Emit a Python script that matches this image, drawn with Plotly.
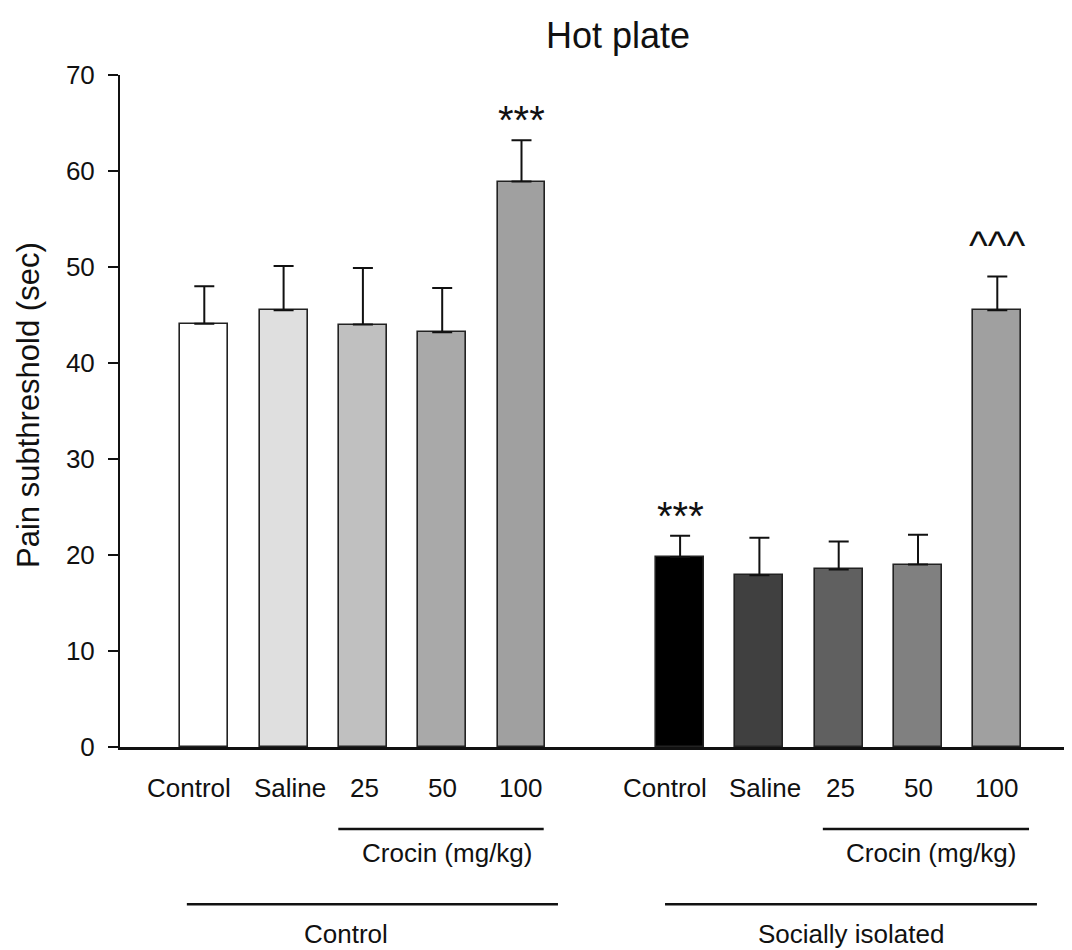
import plotly.graph_objects as go

# ---- data ----
categories = ["Control", "Saline", "25", "50", "100",
              "Control", "Saline", "25", "50", "100"]
positions = [0, 1, 2, 3, 4, 6, 7, 8, 9, 10]
means = [44.1, 45.5, 44.0, 43.2, 58.9,
         19.8, 17.9, 18.5, 19.0, 45.5]
sems = [3.9, 4.6, 5.9, 4.6, 4.3,
        2.2, 3.9, 2.9, 3.1, 3.5]
colors = ["#ffffff", "#dfdfdf", "#c0c0c0", "#a9a9a9", "#a0a0a0",
          "#000000", "#404040", "#606060", "#808080", "#a0a0a0"]
sig_marks = ["", "", "", "", "***", "***", "", "", "", "^^^"]
groups = ["Control", "Socially isolated"]
dose_label = "Crocin (mg/kg)"
y_ticks = [0, 10, 20, 30, 40, 50, 60, 70]

FONT = "Liberation Sans, Arial, sans-serif"

fig = go.Figure()
fig.add_trace(go.Bar(
    x=positions, y=means, width=0.605,
    marker=dict(color=colors, line=dict(color="#222222", width=1.6)),
    error_y=dict(type="data", array=sems, arrayminus=[0] * len(sems),
                 symmetric=False, color="#111111", thickness=2, width=10),
    showlegend=False, hoverinfo="skip",
))

annotations = []
label_shift = {"Control": -15, "Saline": 6, "25": 2, "50": 0, "100": -1}
for p, c in zip(positions, categories):
    annotations.append(dict(x=p, y=-0.061, xref="x", yref="paper", text=c,
                            showarrow=False, xshift=label_shift[c],
                            yanchor="middle",
                            font=dict(size=26, color="#111", family=FONT)))

for p, m, s, mark in zip(positions, means, sems, sig_marks):
    if mark:
        is_star = mark.startswith("*")
        annotations.append(dict(x=p, y=m + s, xref="x", yref="y", text=mark,
                                showarrow=False, yanchor="bottom",
                                yshift=(-4 if is_star else 8),
                                font=dict(size=40, color="#111", family=FONT)))

# crocin lines and labels
shapes = []
croc_spans = [(1.69, 4.28), (7.80, 10.40)]
group_spans = [(-0.22, 4.46), (5.81, 10.50)]
croc_text_x = [3.06, 9.16]
group_text_x = [1.79, 8.15]
for (a, b), tx in zip(croc_spans, croc_text_x):
    shapes.append(dict(type="line", xref="x", yref="paper", x0=a, x1=b,
                       y0=-0.122, y1=-0.122, line=dict(color="#111", width=2.5)))
    annotations.append(dict(x=tx, y=-0.158, xref="x", yref="paper",
                            text=dose_label, showarrow=False, yanchor="middle",
                            font=dict(size=26, color="#111", family=FONT)))
for (a, b), tx, g in zip(group_spans, group_text_x, groups):
    shapes.append(dict(type="line", xref="x", yref="paper", x0=a, x1=b,
                       y0=-0.234, y1=-0.234, line=dict(color="#111", width=2.5)))
    annotations.append(dict(x=tx, y=-0.278, xref="x", yref="paper",
                            text=g, showarrow=False, yanchor="middle",
                            font=dict(size=26, color="#111", family=FONT)))

# title and y title
annotations.append(dict(x=0.523, y=1.0595, xref="paper", yref="paper",
                        text="Hot plate", showarrow=False, yanchor="middle",
                        font=dict(size=36, color="#111", family=FONT)))
annotations.append(dict(x=-0.0956, y=0.509, xref="paper", yref="paper",
                        text="Pain subthreshold (sec)", textangle=-90,
                        showarrow=False, xanchor="center", yanchor="middle",
                        font=dict(size=31, color="#111", family=FONT)))

fig.update_layout(
    width=1072, height=950,
    margin=dict(l=112, r=8, t=67, b=211),
    paper_bgcolor="white", plot_bgcolor="white",
    font=dict(family=FONT, color="#111"),
    annotations=annotations, shapes=shapes,
    bargap=0,
)
fig.update_xaxes(range=[-1.063, 10.942], showticklabels=False, ticks="",
                 showgrid=False, zeroline=False, showline=True,
                 linecolor="#111", linewidth=2.5)
fig.update_yaxes(range=[0, 70], tickvals=y_ticks, ticks="outside", ticklen=10,
                 tickwidth=2, tickcolor="#111", showgrid=False, zeroline=False,
                 showline=True, linecolor="#111", linewidth=2,
                 tickfont=dict(size=26, color="#111", family=FONT),
                 ticklabelstandoff=8)

fig.write_html("out.html")
